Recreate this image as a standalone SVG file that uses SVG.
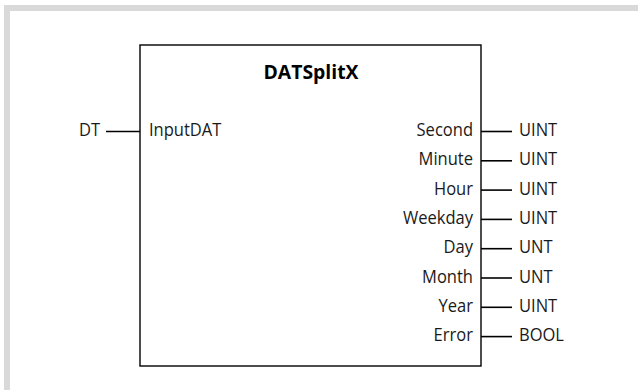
<svg xmlns="http://www.w3.org/2000/svg" width="639" height="390" viewBox="0 0 639 390">
  <style>
    .frame { fill: #d9d9d9; }
    .block { fill: #ffffff; stroke: #000000; stroke-width: 1.4; }
    .pin { stroke: #000000; stroke-width: 1.6; fill: none; }
    .lbl { font-family: "Open Sans", "Liberation Sans", sans-serif; font-size: 19px; fill: #1a1a1a; }
    .end { text-anchor: end; }
    .title { font-family: "Open Sans", "Liberation Sans", sans-serif; font-size: 20px; font-weight: bold; fill: #000000; text-anchor: middle; }
  </style>

  <!-- page frame: grey bar along the top and left edges -->
  <rect class="frame" x="4" y="5" width="634" height="6"/>
  <rect class="frame" x="4" y="5" width="6" height="385"/>

  <!-- function block -->
  <g id="block-DATSplitX">
    <rect class="block" x="140" y="45" width="341" height="321"/>
    <text class="title" transform="translate(311,78.5) scale(0.97,1)">DATSplitX</text>
    <text class="lbl" transform="translate(149,136) scale(0.87,1)">InputDAT</text>
    <text class="lbl end" transform="translate(473,136) scale(0.87,1)">Second</text>
    <text class="lbl end" transform="translate(473,165.3) scale(0.87,1)">Minute</text>
    <text class="lbl end" transform="translate(473,194.6) scale(0.87,1)">Hour</text>
    <text class="lbl end" transform="translate(473,223.9) scale(0.87,1)">Weekday</text>
    <text class="lbl end" transform="translate(473,253.2) scale(0.87,1)">Day</text>
    <text class="lbl end" transform="translate(473,282.5) scale(0.87,1)">Month</text>
    <text class="lbl end" transform="translate(473,311.8) scale(0.87,1)">Year</text>
    <text class="lbl end" transform="translate(473,341.1) scale(0.87,1)">Error</text>
  </g>

  <!-- input variable -->
  <g id="in-DT">
    <text class="lbl end" transform="translate(100,136) scale(0.87,1)">DT</text>
  </g>

  <!-- output data types -->
  <g id="out-types">
    <text class="lbl" transform="translate(519,136) scale(0.87,1)">UINT</text>
    <text class="lbl" transform="translate(519,165.3) scale(0.87,1)">UINT</text>
    <text class="lbl" transform="translate(519,194.6) scale(0.87,1)">UINT</text>
    <text class="lbl" transform="translate(519,223.9) scale(0.87,1)">UINT</text>
    <text class="lbl" transform="translate(519,253.2) scale(0.87,1)">UNT</text>
    <text class="lbl" transform="translate(519,282.5) scale(0.87,1)">UNT</text>
    <text class="lbl" transform="translate(519,311.8) scale(0.87,1)">UINT</text>
    <text class="lbl" transform="translate(519,341.1) scale(0.87,1)">BOOL</text>
  </g>

  <!-- pin connectors -->
  <g id="connectors">
    <line class="pin" x1="106" y1="131.5" x2="140" y2="131.5"/>
    <line class="pin" x1="481" y1="131.5" x2="512" y2="131.5"/>
    <line class="pin" x1="481" y1="160.8" x2="512" y2="160.8"/>
    <line class="pin" x1="481" y1="190.1" x2="512" y2="190.1"/>
    <line class="pin" x1="481" y1="219.4" x2="512" y2="219.4"/>
    <line class="pin" x1="481" y1="248.7" x2="512" y2="248.7"/>
    <line class="pin" x1="481" y1="278" x2="512" y2="278"/>
    <line class="pin" x1="481" y1="307.3" x2="512" y2="307.3"/>
    <line class="pin" x1="481" y1="336.6" x2="512" y2="336.6"/>
  </g>
</svg>
